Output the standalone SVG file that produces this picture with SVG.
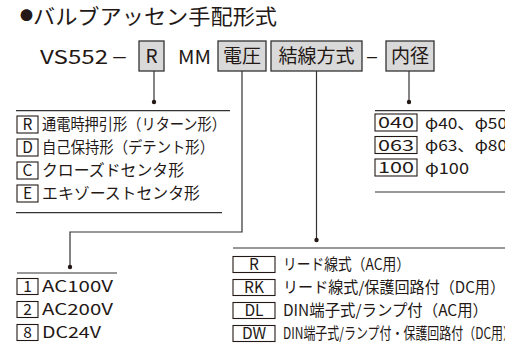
<svg xmlns="http://www.w3.org/2000/svg" width="505" height="355" viewBox="0 0 505 355">
<style>
text{font-family:"Noto Sans CJK JP","Noto Sans",sans-serif;fill:#231815}
.hb{fill:#d9d9d9;stroke:#333;stroke-width:1.3}
.lb{fill:#fff;stroke:#231815;stroke-width:1.1}
.ln{stroke:#333;stroke-width:1.2;fill:none}
.t19{font-size:19px}
.t15{font-size:15.5px}
.c{text-anchor:middle}
.dot{fill:#231815}
</style>
<g id="title">
<text x="20" y="19.5" font-size="13">●</text>
<text x="33" y="24" font-size="21" textLength="244" lengthAdjust="spacingAndGlyphs">バルブアッセン手配形式</text>
</g>
<g id="code">
<text class="t19" x="40" y="64" textLength="68" lengthAdjust="spacingAndGlyphs">VS552</text>
<text class="t19" x="112" y="63" textLength="15" lengthAdjust="spacingAndGlyphs">–</text>
<text class="t19" x="178" y="64" textLength="33" lengthAdjust="spacingAndGlyphs">MM</text>
<text class="t19" x="366" y="63" textLength="12" lengthAdjust="spacingAndGlyphs">–</text>
</g>
<g id="box-R"><rect class="hb" x="139" y="41" width="25" height="30"/><text class="t19 c" x="151.5" y="63">R</text></g>
<g id="box-voltage"><rect class="hb" x="218" y="41" width="48" height="30"/><text class="t19 c" x="242" y="63">電圧</text></g>
<g id="box-wiring"><rect class="hb" x="271" y="41" width="91" height="30"/><text class="t19 c" x="316.5" y="63">結線方式</text></g>
<g id="box-bore"><rect class="hb" x="386" y="41" width="48" height="30"/><text class="t19 c" x="410" y="63">内径</text></g>
<g id="connectors">
<path class="ln" d="M154 71V102"/><circle class="dot" cx="154" cy="102" r="2.2"/>
<path class="ln" d="M409 71V102"/><circle class="dot" cx="409" cy="102" r="2.2"/>
<path class="ln" d="M242 71V232H70V267"/><circle class="dot" cx="70" cy="267" r="2.2"/>
<path class="ln" d="M316.5 71V240"/><circle class="dot" cx="316.5" cy="240" r="2.2"/>
</g>
<g id="list-action">
<path class="ln" d="M16 110.7H230M16 212.7H222"/>
<rect class="lb" x="17" y="116" width="21" height="17"/><text class="t15 c" x="27.5" y="130">R</text><text class="t15" x="42" y="130" textLength="184" lengthAdjust="spacingAndGlyphs">通電時押引形（リターン形）</text>
<rect class="lb" x="17" y="139" width="21" height="17"/><text class="t15 c" x="27.5" y="153">D</text><text class="t15" x="42" y="153" textLength="172" lengthAdjust="spacingAndGlyphs">自己保持形（デテント形）</text>
<rect class="lb" x="17" y="162" width="21" height="17"/><text class="t15 c" x="27.5" y="176">C</text><text class="t15" x="42" y="176" textLength="142" lengthAdjust="spacingAndGlyphs">クローズドセンタ形</text>
<rect class="lb" x="17" y="185" width="21" height="17"/><text class="t15 c" x="27.5" y="199">E</text><text class="t15" x="42" y="199" textLength="158" lengthAdjust="spacingAndGlyphs">エキゾーストセンタ形</text>
</g>
<g id="list-bore">
<path class="ln" d="M375 110.7H505M375 192H505"/>
<rect class="lb" x="375" y="114" width="42" height="17"/><text class="t15 c" x="396" y="128" textLength="36" lengthAdjust="spacingAndGlyphs">040</text><text class="t15" x="425" y="128.5" font-size="16" textLength="82" lengthAdjust="spacingAndGlyphs">φ40、φ50</text>
<rect class="lb" x="375" y="136.5" width="42" height="17"/><text class="t15 c" x="396" y="150.5" textLength="36" lengthAdjust="spacingAndGlyphs">063</text><text class="t15" x="425" y="151" font-size="16" textLength="82" lengthAdjust="spacingAndGlyphs">φ63、φ80</text>
<rect class="lb" x="375" y="159" width="42" height="17"/><text class="t15 c" x="396" y="173" textLength="36" lengthAdjust="spacingAndGlyphs">100</text><text class="t15" x="425" y="173.5" font-size="16" textLength="44" lengthAdjust="spacingAndGlyphs">φ100</text>
</g>
<g id="list-voltage">
<path class="ln" d="M17 273H117"/>
<rect class="lb" x="17" y="278.5" width="21" height="16"/><text class="t15 c" x="27.5" y="292">1</text><text class="t15" x="42" y="292" textLength="71" lengthAdjust="spacingAndGlyphs">AC100V</text>
<rect class="lb" x="17" y="301.5" width="21" height="16"/><text class="t15 c" x="27.5" y="315">2</text><text class="t15" x="42" y="315" textLength="71" lengthAdjust="spacingAndGlyphs">AC200V</text>
<rect class="lb" x="17" y="324.5" width="21" height="16"/><text class="t15 c" x="27.5" y="338">8</text><text class="t15" x="42" y="338" textLength="59" lengthAdjust="spacingAndGlyphs">DC24V</text>
</g>
<g id="list-wiring">
<path class="ln" d="M233 248H505"/>
<rect class="lb" x="233" y="256.5" width="42" height="16"/><text class="t15 c" x="254" y="270">R</text><text class="t15" x="283" y="270" textLength="127" lengthAdjust="spacingAndGlyphs">リード線式（AC用）</text>
<rect class="lb" x="233" y="279.5" width="42" height="16"/><text class="t15 c" x="254" y="293">RK</text><text class="t15" x="283" y="293" textLength="222" lengthAdjust="spacingAndGlyphs">リード線式/保護回路付（DC用）</text>
<rect class="lb" x="233" y="302.5" width="42" height="16"/><text class="t15 c" x="254" y="316">DL</text><text class="t15" x="283" y="316" textLength="205" lengthAdjust="spacingAndGlyphs">DIN端子式/ランプ付（AC用）</text>
<rect class="lb" x="233" y="325.5" width="42" height="16"/><text class="t15 c" x="254" y="339">DW</text><text class="t15" x="283" y="339" font-size="14" textLength="232" lengthAdjust="spacingAndGlyphs">DIN端子式/ランプ付・保護回路付（DC用）</text>
</g>
</svg>
